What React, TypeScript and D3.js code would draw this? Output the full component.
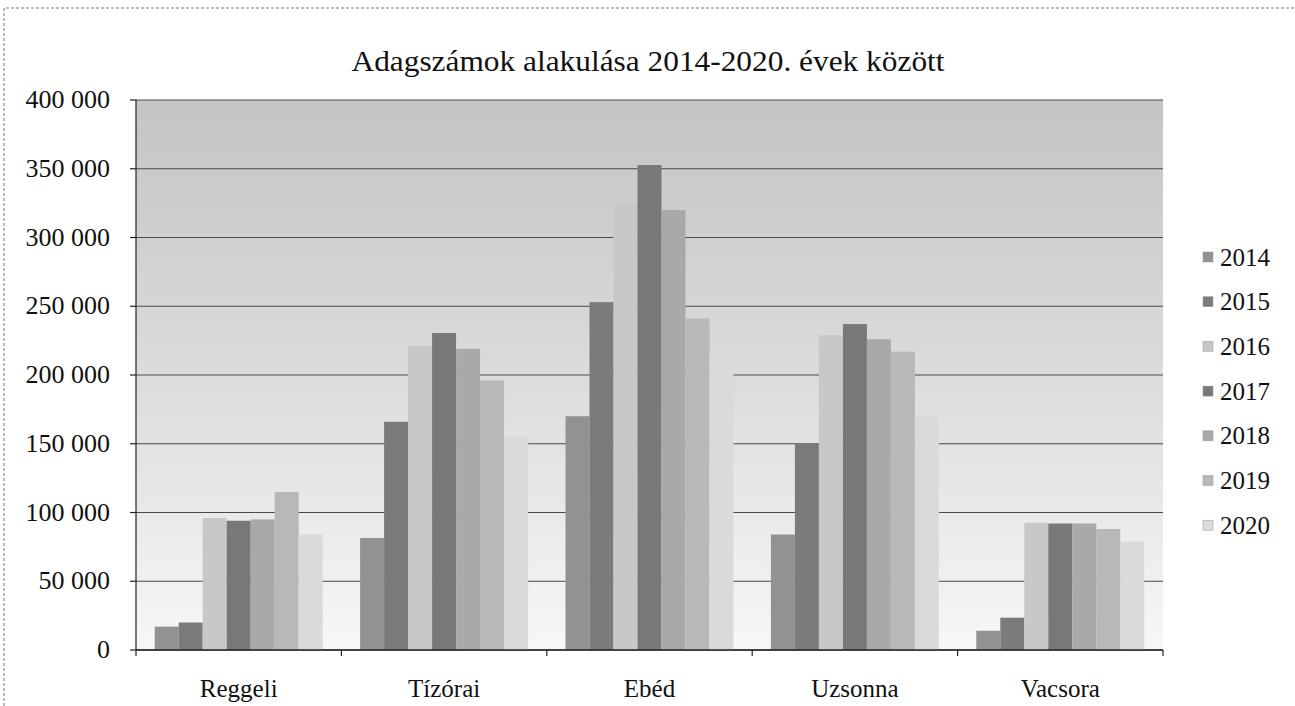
import React from "react";
import * as d3 from "d3";

const categories = ["Reggeli", "Tízórai", "Ebéd", "Uzsonna", "Vacsora"];
const years = ["2014", "2015", "2016", "2017", "2018", "2019", "2020"];
const v2014 = [17000, 81500, 170000, 84000, 14000];
const v2015 = [20000, 166000, 253000, 150500, 23500];
const v2016 = [96000, 221000, 325000, 229000, 92500];
const v2017 = [94000, 230500, 352700, 237000, 92000];
const v2018 = [95000, 219000, 320000, 226000, 92000];
const v2019 = [115000, 196000, 241000, 217000, 88000];
const v2020 = [84000, 155000, 215000, 170000, 79000];
const seriesValues = [v2014, v2015, v2016, v2017, v2018, v2019, v2020];
const yTicks = [0, 50000, 100000, 150000, 200000, 250000, 300000, 350000, 400000];
const title = "Adagszámok alakulása 2014-2020. évek között";

const colors = ["#929292", "#7b7b7b", "#c8c8c8", "#787878", "#a9a9a9", "#b8b8b8", "#dadada"];

const W = 1295;
const H = 706;
const plot = { left: 136, right: 1163, top: 100, bottom: 650 };
const FONT = '"Liberation Serif", "DejaVu Serif", serif';
const ts = { fontFamily: FONT } as React.CSSProperties;

const fmt = (v: number) => {
  if (v === 0) return "0";
  const s = String(v);
  return s.slice(0, s.length - 3) + " " + s.slice(-3);
};

export default function App() {
  const x0 = d3.scaleBand<string>().domain(categories).range([plot.left, plot.right]).padding(0);
  const x1 = d3
    .scaleBand<string>()
    .domain(years)
    .range([0, x0.bandwidth()])
    .paddingInner(0)
    .paddingOuter(0.78);
  const y = d3.scaleLinear().domain([0, 400000]).range([plot.bottom, plot.top]);
  const boundaries = categories.map((c) => x0(c) as number).concat([plot.right]);

  return (
    <svg width={W} height={H} style={{ position: "absolute", left: 0, top: 0, background: "#fff", fontFamily: FONT }}>
      <defs>
        <linearGradient id="bg" x1="0" y1="0" x2="0" y2="1">
          <stop offset="0" stopColor="#c4c4c4" />
          <stop offset="0.45" stopColor="#d9d9d9" />
          <stop offset="1" stopColor="#f7f7f7" />
        </linearGradient>
      </defs>
      <rect x={0} y={0} width={W} height={H} fill="#fff" />
      {/* outer frame */}
      <path d={`M4,${H} L4,8 L${W},8`} fill="none" stroke="#777" strokeWidth={1} strokeDasharray="3,2" />
      {/* title */}
      <text x={648} y={71} textAnchor="middle" fontSize={30} fill="#111" style={ts} textLength={593} lengthAdjust="spacingAndGlyphs">
        {title}
      </text>
      {/* plot background */}
      <rect x={plot.left} y={plot.top} width={plot.right - plot.left} height={plot.bottom - plot.top} fill="url(#bg)" />
      {/* gridlines */}
      {yTicks.map((t) => (
        <line key={t} x1={plot.left} x2={plot.right} y1={y(t)} y2={y(t)} stroke="#4a4a4a" strokeWidth={1.2} />
      ))}
      {/* bars */}
      {categories.map((c, ci) =>
        years.map((yr, si) => {
          const v = seriesValues[si][ci];
          const bx = (x0(c) as number) + (x1(yr) as number);
          return (
            <rect
              key={c + yr}
              x={bx}
              y={y(v)}
              width={x1.bandwidth()}
              height={y(0) - y(v)}
              fill={colors[si]}
            />
          );
        })
      )}
      {/* axes */}
      <line x1={plot.left} x2={plot.left} y1={plot.top} y2={plot.bottom} stroke="#222" strokeWidth={1.2} />
      <line x1={plot.left} x2={plot.right} y1={plot.bottom} y2={plot.bottom} stroke="#222" strokeWidth={1.4} />
      {yTicks.map((t) => (
        <g key={"yt" + t}>
          <line x1={plot.left - 6} x2={plot.left} y1={y(t)} y2={y(t)} stroke="#222" strokeWidth={1.2} />
          <text x={110} y={y(t) + 8} textAnchor="end" fontSize={26} fill="#111" style={ts}>
            {fmt(t)}
          </text>
        </g>
      ))}
      {boundaries.map((b, i) => (
        <line key={"xt" + i} x1={b} x2={b} y1={plot.bottom} y2={plot.bottom + 6} stroke="#222" strokeWidth={1.2} />
      ))}
      {categories.map((c) => (
        <text
          key={"cl" + c}
          x={(x0(c) as number) + x0.bandwidth() / 2}
          y={697}
          textAnchor="middle"
          fontSize={25}
          fill="#111"
          style={ts}
        >
          {c}
        </text>
      ))}
      {/* legend */}
      {years.map((yr, i) => {
        const cy = 257 + i * 44.7;
        return (
          <g key={"lg" + yr}>
            <rect x={1203} y={cy - 5} width={10} height={10} fill={colors[i]} stroke="#999" strokeWidth={0.5} />
            <text x={1220} y={cy + 8.5} fontSize={25} fill="#111" style={ts}>
              {yr}
            </text>
          </g>
        );
      })}
    </svg>
  );
}
